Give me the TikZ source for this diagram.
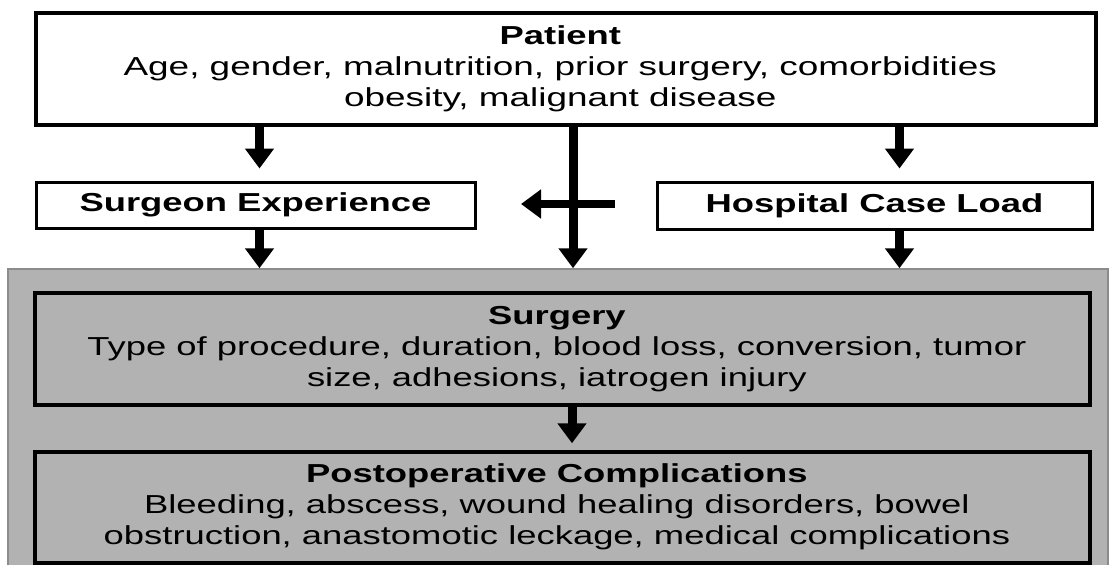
\documentclass[tikz,border=0pt]{standalone}
\usepackage{fontspec}
\setmainfont{Liberation Sans}
\usepackage{graphicx}
\usetikzlibrary{arrows.meta}

% wide text, as the figure is stretched sideways
\newcommand{\wtxt}[2][1.40]{\scalebox{#1}[1]{\begin{tabular}{@{}c@{\hspace{8pt}}}#2\end{tabular}}}

\begin{document}
\begin{tikzpicture}[x=1pt,y=-1pt,font=\fontsize{26}{31}\selectfont]
	\tikzset{box/.style={draw,line width=3.5pt,fill=white,inner sep=0pt},
			graybox/.style={box,fill=black!30},
			flow/.style={line width=9pt,-{Triangle[width=28pt,length=20pt]}}}
	\useasboundingbox (0,0) rectangle (1109,565);

	\node[box,minimum width=1060pt,minimum height=112pt] (patient) at (566,69)
		{\begin{tabular}{@{}c@{}}\wtxt{\textbf{Patient}}\\
		\wtxt[1.42]{Age, gender, malnutrition, prior surgery, comorbidities}\\
		\wtxt[1.42]{obesity, malignant disease}\end{tabular}};
	\node[box,line width=3pt,minimum width=439pt,minimum height=46pt] (surgeon) at (255.5,205)
		{\scalebox{1.40}[1]{\textbf{Surgeon Experience}}};
	\node[box,line width=3pt,minimum width=435pt,minimum height=47pt] (hospital) at (874.5,205.5)
		{\scalebox{1.40}[1]{\textbf{Hospital Case Load}}};

	\node[draw=black!45,fill=black!30,line width=1.5pt,minimum width=1100pt,minimum height=302pt] (clinic) at (558,420) {};
	\node[graybox,minimum width=1055pt,minimum height=112pt] (surgery) at (562.5,349)
		{\wtxt{\textbf{Surgery}\\Type of procedure, duration, blood loss, conversion, tumor\\size, adhesions, iatrogen injury}};
	\node[graybox,minimum width=1055pt,minimum height=111pt] (postop) at (562.5,507.5)
		{\raisebox{-4pt}{\wtxt{\textbf{Postoperative Complications}\\Bleeding, abscess, wound healing disorders, bowel\\obstruction, anastomotic leckage, medical complications}}};

	\coordinate (crossR) at (615,204);
	\coordinate (crossL) at (521,204);

	\draw[flow] ([xshift=4pt]patient.south -| surgeon.north) -- ([xshift=4pt,yshift=12pt]surgeon.north);
	\draw[flow] ([xshift=25pt]patient.south -| hospital.north) -- ([xshift=25pt,yshift=12pt]hospital.north);
	\draw[flow] ([xshift=4pt]surgeon.south) -- ([xshift=4pt]surgeon.south |- clinic.north);
	\draw[flow] ([xshift=25pt]hospital.south) -- ([xshift=25pt]hospital.south |- clinic.north);
	\draw[flow] ([xshift=7pt]patient.south) -- ([xshift=7pt]patient.south |- clinic.north);
	\draw[flow,line width=8pt] (crossR) -- (crossL);
	\draw[flow] ([xshift=9.5pt]surgery.south) -- ([xshift=9.5pt,yshift=7pt]postop.north);
\end{tikzpicture}
\end{document}
